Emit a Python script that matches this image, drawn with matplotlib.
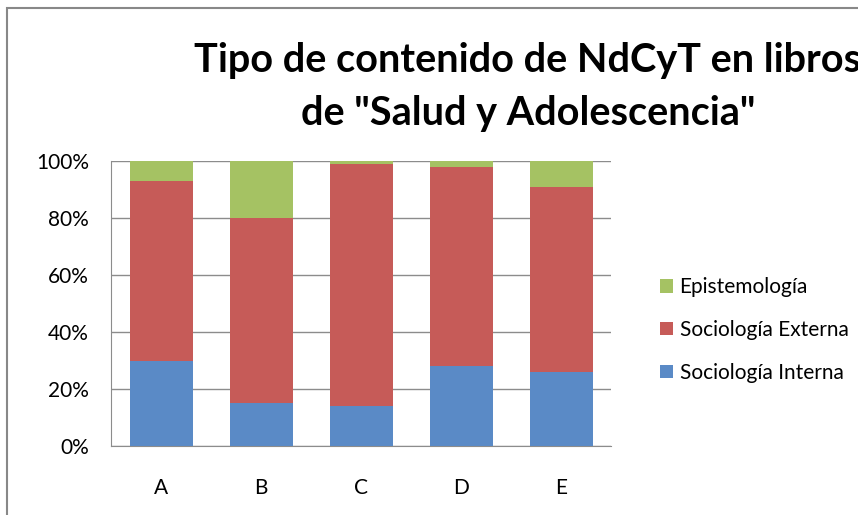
import matplotlib.pyplot as plt
from matplotlib.patches import Rectangle
import numpy as np

# data (percent of each book)
libros = ["A", "B", "C", "D", "E"]
soc_interna = [30, 15, 14, 28, 26]
soc_externa = [63, 65, 85, 70, 65]
epistemologia = [7, 20, 1, 2, 9]

plt.rcParams['font.family'] = ['Lato', 'DejaVu Sans']

fig = plt.figure(figsize=(8.58, 5.15), dpi=100)
W, H = 858, 515
ax = fig.add_axes([111 / W, (H - 446) / H, 500 / W, 285 / H])

x = np.arange(len(libros))
bw = 0.63
c_int, c_ext, c_epi = "#5a8ac6", "#c65b58", "#a5c263"

b1 = ax.bar(x, soc_interna, bw, color=c_int, zorder=3)
b2 = ax.bar(x, soc_externa, bw, bottom=soc_interna, color=c_ext, zorder=3)
base = np.array(soc_interna) + np.array(soc_externa)
b3 = ax.bar(x, epistemologia, bw, bottom=base, color=c_epi, zorder=3)

ax.set_xlim(-0.5, len(libros) - 0.5)
ax.set_ylim(0, 100)
ax.set_yticks(range(0, 101, 20))
ax.set_yticklabels([f"{v}%" for v in range(0, 101, 20)])
ax.set_xticks(x)
ax.set_xticklabels(libros)
ax.yaxis.grid(True, color="#8c8c8c", linewidth=1, zorder=0)
for s in ["top", "right"]:
    ax.spines[s].set_visible(False)
for s in ["left", "bottom"]:
    ax.spines[s].set_color("#8c8c8c")
ax.tick_params(axis="y", length=0, labelsize=15, pad=16)
ax.tick_params(axis="x", length=0, labelsize=15, pad=23)

# title (chart is wider than the image, so it runs off the right edge)
fig.text(528 / W, 1 - 72 / H, 'Tipo de contenido de NdCyT en libros',
         ha="center", va="baseline", fontsize=28.5, fontweight="bold")
fig.text(528 / W, 1 - 125 / H, 'de "Salud y Adolescencia"',
         ha="center", va="baseline", fontsize=28.5, fontweight="bold")

# legend
fig.legend([b3, b2, b1], ["Epistemología", "Sociología Externa", "Sociología Interna"],
           loc="center left", bbox_to_anchor=(650 / W, 1 - 330 / H),
           bbox_transform=fig.transFigure, frameon=False, borderpad=0,
           fontsize=15, handlelength=0.62, handleheight=0.62, handletextpad=0.3,
           labelspacing=1.1)

# chart border
fig.patches.append(Rectangle((7 / W, -0.1), 1.1, 1 - 8 / H + 0.1, transform=fig.transFigure,
                             fill=False, edgecolor="#888888", linewidth=1.5))

fig.savefig("out.png", dpi=100)
